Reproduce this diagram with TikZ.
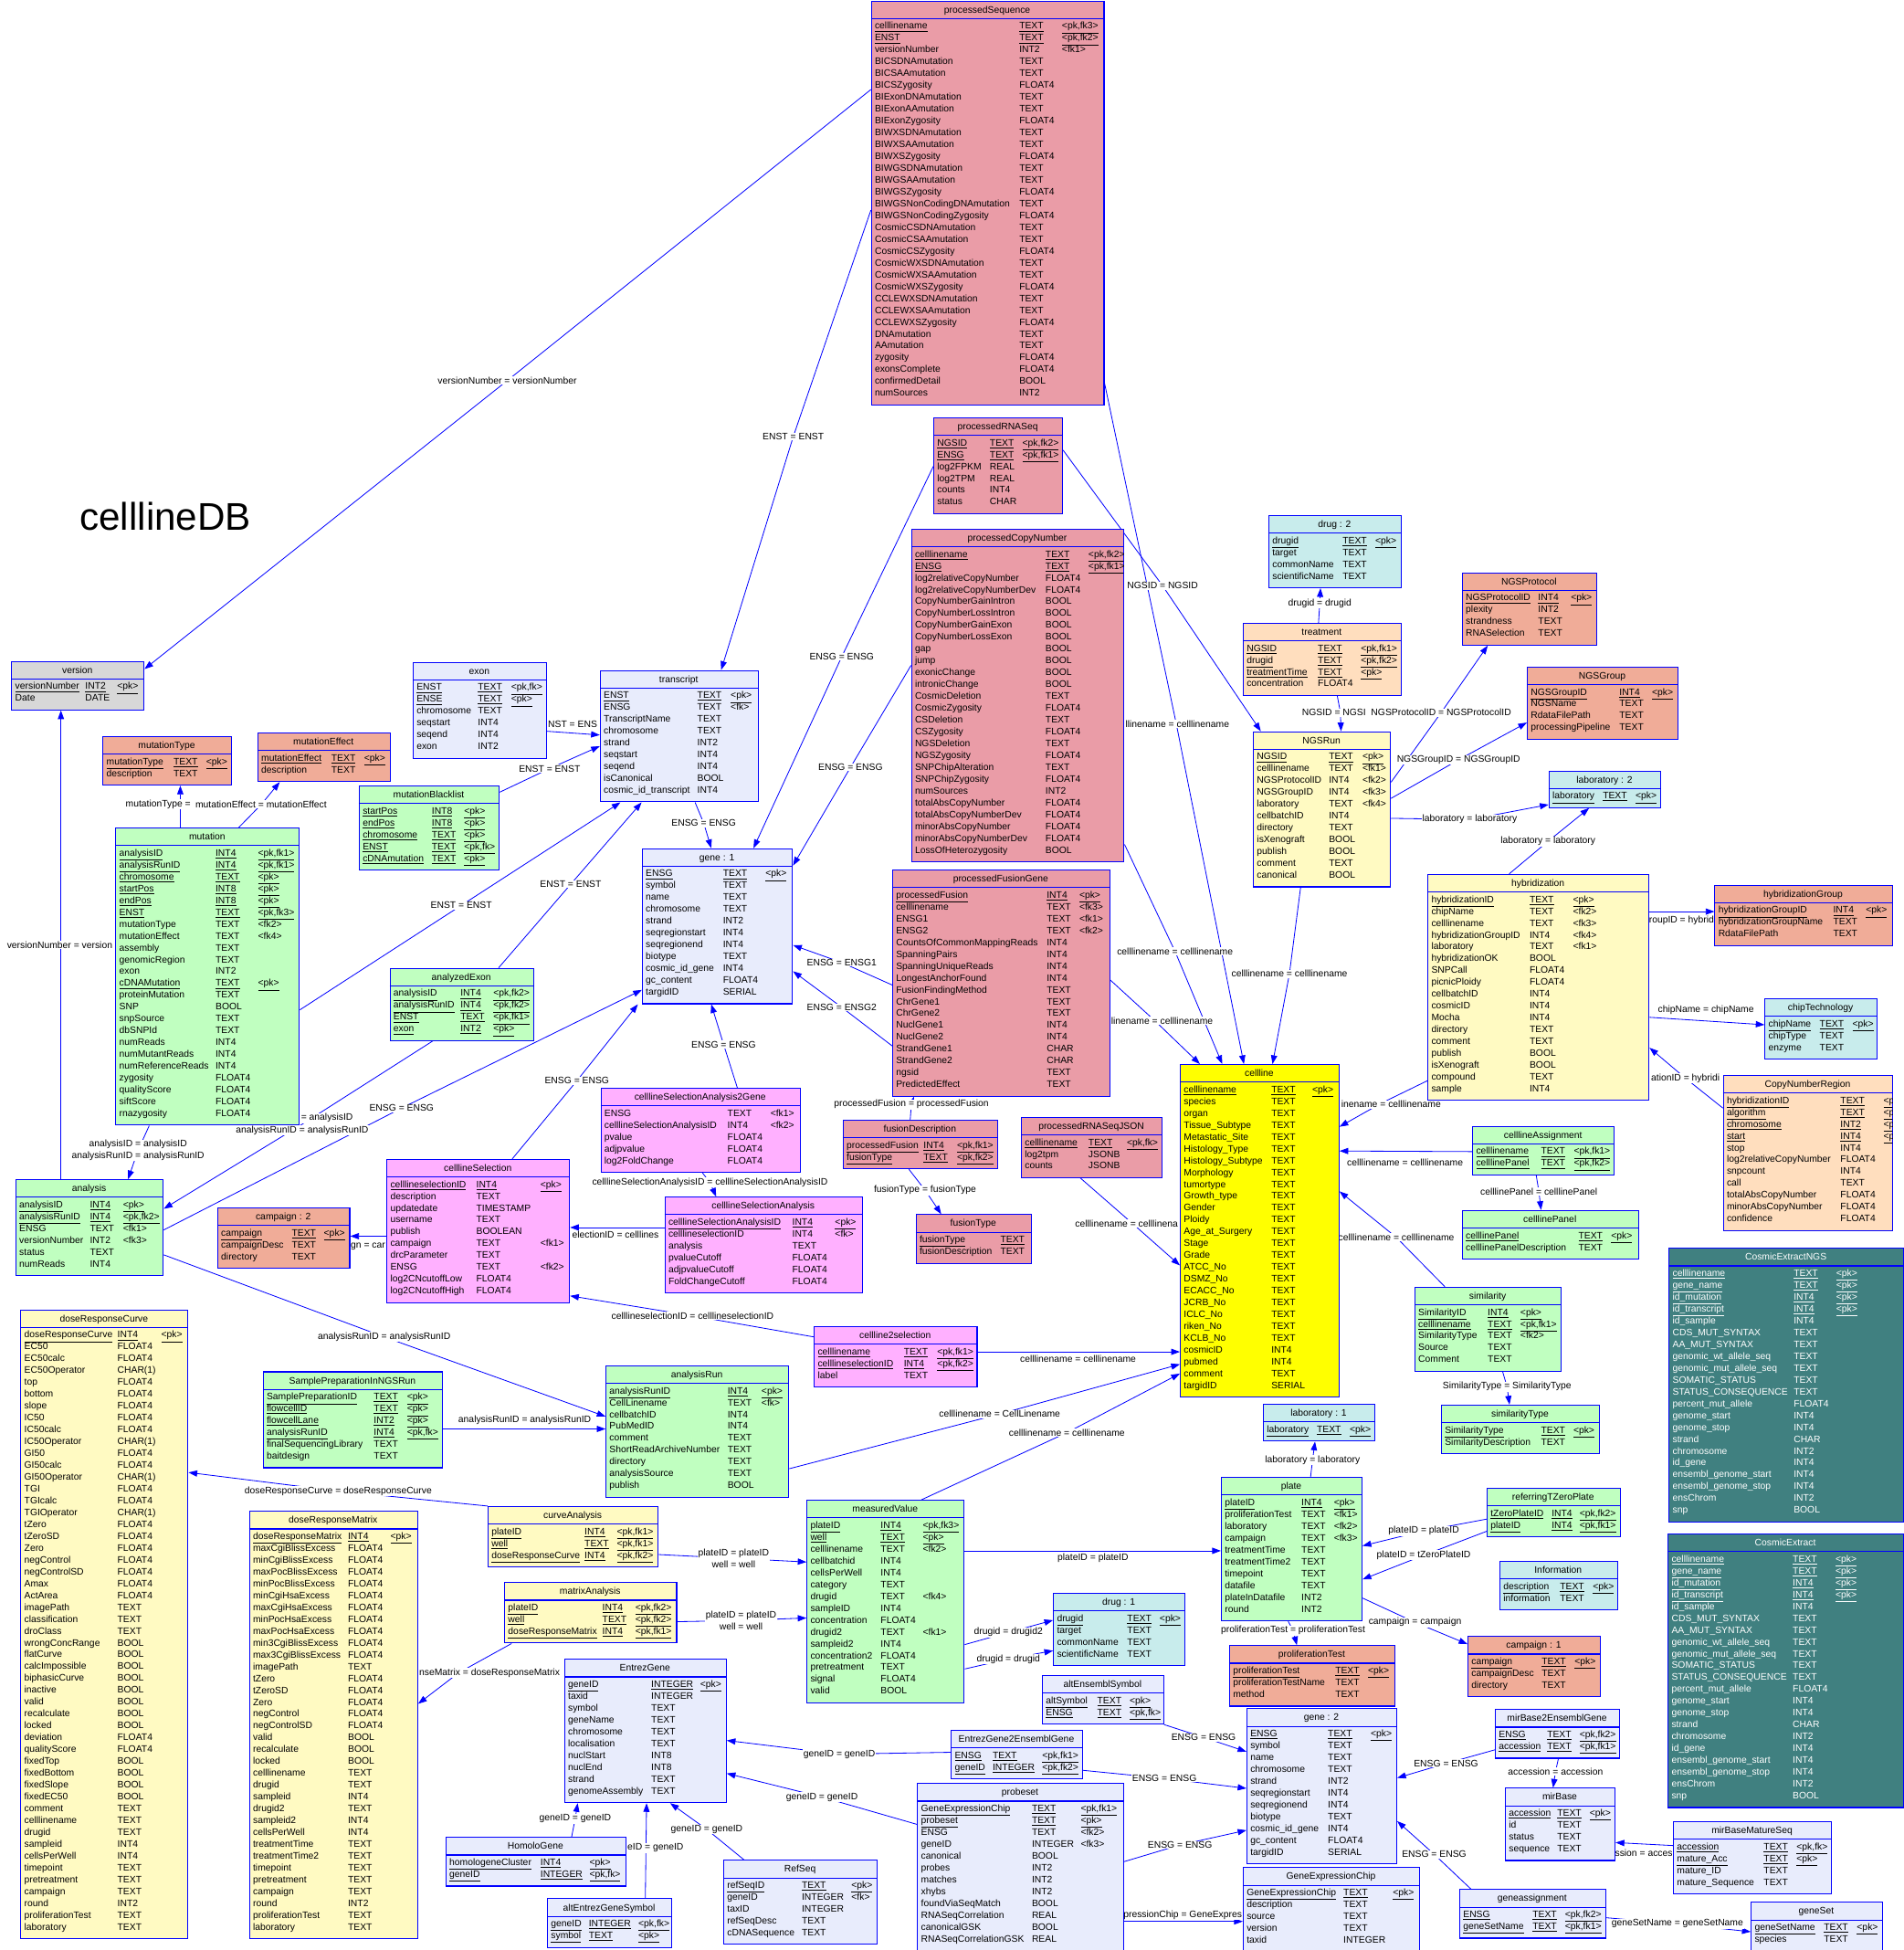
\documentclass[tikz,border=0pt]{standalone}
\usepackage{fontspec}
\setmainfont{Liberation Sans}
\usetikzlibrary{arrows.meta}
\definecolor{cPink}{RGB}{234,156,167}
\definecolor{cSalmon}{RGB}{240,172,152}
\definecolor{cPeach}{RGB}{255,222,190}
\definecolor{cGreen}{RGB}{192,255,192}
\definecolor{cLYellow}{RGB}{255,250,194}
\definecolor{cYellow}{RGB}{255,255,0}
\definecolor{cLav}{RGB}{232,236,252}
\definecolor{cCyan}{RGB}{200,236,236}
\definecolor{cMag}{RGB}{255,176,255}
\definecolor{cTeal}{RGB}{64,128,128}
\definecolor{cGray}{RGB}{216,216,216}
\definecolor{cBlue}{RGB}{0,0,255}
\pgfdeclarelayer{bg}\pgfdeclarelayer{lines}\pgfdeclarelayer{labels}
\pgfsetlayers{bg,lines,labels,main}
\newcommand\tblfont{\fontsize{7.6}{9.3}\selectfont}
\newcommand\U[1]{\underline{#1}}
\tikzset{
 tblbox/.style={draw=cBlue, line width=0.8pt, anchor=north west, inner sep=0pt, rectangle},
 rowtxt/.style={anchor=base west, inner sep=0pt, font=\tblfont},
 ttltxt/.style={anchor=base, inner sep=0pt, font=\tblfont},
 link/.style={draw=cBlue, line width=0.6pt, -{Triangle[length=7pt,width=5pt]}},
 lbl/.style={fill=white, inner sep=0.5pt, font=\tblfont, align=center, text=black},
}
\def\tblsplit#1,#2,#3,#4,#5\relax{\def\tL{#1}\def\tT{#2}\def\tR{#3}\def\tX{#4}\def\kX{#5}}
\newcommand\tbl[6][black]{%
  \tblsplit#4\relax
  \foreach \q [count=\i] in {#6} {\xdef\tN{\i}}%
  \pgfmathsetmacro\tH{20+9.52*\tN}%
  \pgfmathsetmacro\tW{\tR-\tL}%
  \node[tblbox, fill=#3, minimum width=\tW pt, minimum height=\tH pt] (#2) at (\tL,\tT) {};
  \draw[cBlue, line width=0.8pt] (\tL,\tT+14.5) -- (\tR,\tT+14.5);
  \node[ttltxt, text=#1] at ({(\tL+\tR)/2},\tT+10) {#5};
  \begin{scope}
  \clip (\tL,\tT) rectangle (\tR,\tT+\tH);
  \foreach \rk/\ra/\rb/\rc [count=\i] in {#6} {%
    \pgfmathsetmacro\yy{\tT+23+9.52*(\i-1)}%
    \if u\rk
      \node[rowtxt, text=#1] at (\tL+3,\yy) {\U{\ra}};
      \node[rowtxt, text=#1] at (\tL+\tX,\yy) {\U{\rb}};
      \node[rowtxt, text=#1] at (\tL+\kX,\yy) {\U{\rc}};
    \else
      \node[rowtxt, text=#1] at (\tL+3,\yy) {\ra};
      \node[rowtxt, text=#1] at (\tL+\tX,\yy) {\rb};
      \node[rowtxt, text=#1] at (\tL+\kX,\yy) {\rc};
    \fi
  }%
  \end{scope}
}
% straight connector: [label opts]{src}{label pos}{tgt}{text}
\newcommand\conn[5][]{%
  \begin{pgfonlayer}{lines}\draw[link] #2 -- #4;\end{pgfonlayer}
  \begin{pgfonlayer}{labels}\node[lbl,#1] at #3 {#5};\end{pgfonlayer}}
% connector bent at its label: [label opts]{src}{via = label pos}{tgt}{text}
\newcommand\connv[5][]{%
  \begin{pgfonlayer}{lines}\draw[link] #2 -- #3 -- #4;\end{pgfonlayer}
  \begin{pgfonlayer}{labels}\node[lbl,#1] at #3 {#5};\end{pgfonlayer}}
% bent connector with label placed apart: [label opts]{src}{via}{tgt}{label pos}{text}
\newcommand\connx[6][]{%
  \begin{pgfonlayer}{lines}\draw[link] #2 -- #3 -- #4;\end{pgfonlayer}
  \begin{pgfonlayer}{labels}\node[lbl,#1] at #5 {#6};\end{pgfonlayer}}
\begin{document}
\begin{tikzpicture}[x=1pt,y=-1pt]
\useasboundingbox (0,0) rectangle (1531,1568);
\begin{pgfonlayer}{bg}\fill[white] (0,0) rectangle (1531,1568);\end{pgfonlayer}
\node[anchor=base west, inner sep=0pt, font=\fontsize{31}{36}\selectfont] (dbtitle) at (64,426) {celllineDB};

% ---------------- tables ----------------
\tbl{processedSequence}{cPink}{700.4,0.5,887.5,119.2,153.5}{processedSequence}{u/celllinename/TEXT/{<pk,fk3>},u/ENST/TEXT/{<pk,fk2>},n/versionNumber/INT2/{<fk1>},n/BICSDNAmutation/TEXT/{},n/BICSAAmutation/TEXT/{},n/BICSZygosity/FLOAT4/{},n/BIExonDNAmutation/TEXT/{},n/BIExonAAmutation/TEXT/{},n/BIExonZygosity/FLOAT4/{},n/BIWXSDNAmutation/TEXT/{},n/BIWXSAAmutation/TEXT/{},n/BIWXSZygosity/FLOAT4/{},n/BIWGSDNAmutation/TEXT/{},n/BIWGSAAmutation/TEXT/{},n/BIWGSZygosity/FLOAT4/{},n/BIWGSNonCodingDNAmutation/TEXT/{},n/BIWGSNonCodingZygosity/FLOAT4/{},n/CosmicCSDNAmutation/TEXT/{},n/CosmicCSAAmutation/TEXT/{},n/CosmicCSZygosity/FLOAT4/{},n/CosmicWXSDNAmutation/TEXT/{},n/CosmicWXSAAmutation/TEXT/{},n/CosmicWXSZygosity/FLOAT4/{},n/CCLEWXSDNAmutation/TEXT/{},n/CCLEWXSAAmutation/TEXT/{},n/CCLEWXSZygosity/FLOAT4/{},n/DNAmutation/TEXT/{},n/AAmutation/TEXT/{},n/zygosity/FLOAT4/{},n/exonsComplete/FLOAT4/{},n/confirmedDetail/BOOL/{},n/numSources/INT2/{}}

\tbl{processedRNASeq}{cPink}{750.6,335.5,854.2,45.3,71.5}{processedRNASeq}{u/NGSID/TEXT/{<pk,fk2>},u/ENSG/TEXT/{<pk,fk1>},n/log2FPKM/REAL/{},n/log2TPM/REAL/{},n/counts/INT4/{},n/status/CHAR/{}}

\tbl{processedCopyNumber}{cPink}{732.7,425.1,903.6,108,142.5}{processedCopyNumber}{u/celllinename/TEXT/{<pk,fk2>},u/ENSG/TEXT/{<pk,fk1>},n/log2relativeCopyNumber/FLOAT4/{},n/log2relativeCopyNumberDev/FLOAT4/{},n/CopyNumberGainIntron/BOOL/{},n/CopyNumberLossIntron/BOOL/{},n/CopyNumberGainExon/BOOL/{},n/CopyNumberLossExon/BOOL/{},n/gap/BOOL/{},n/jump/BOOL/{},n/exonicChange/BOOL/{},n/intronicChange/BOOL/{},n/CosmicDeletion/TEXT/{},n/CosmicZygosity/FLOAT4/{},n/CSDeletion/TEXT/{},n/CSZygosity/FLOAT4/{},n/NGSDeletion/TEXT/{},n/NGSZygosity/FLOAT4/{},n/SNPChipAlteration/TEXT/{},n/SNPChipZygosity/FLOAT4/{},n/numSources/INT2/{},n/totalAbsCopyNumber/FLOAT4/{},n/totalAbsCopyNumberDev/FLOAT4/{},n/minorAbsCopyNumber/FLOAT4/{},n/minorAbsCopyNumberDev/FLOAT4/{},n/LossOfHeterozygosity/BOOL/{}}

\tbl{processedFusionGene}{cPink}{717.5,699.2,892.1,124.2,150.4}{processedFusionGene}{u/processedFusion/INT4/{<pk>},n/celllinename/TEXT/{<fk3>},n/ENSG1/TEXT/{<fk1>},n/ENSG2/TEXT/{<fk2>},n/CountsOfCommonMappingReads/INT4/{},n/SpanningPairs/INT4/{},n/SpanningUniqueReads/INT4/{},n/LongestAnchorFound/INT4/{},n/FusionFindingMethod/TEXT/{},n/ChrGene1/TEXT/{},n/ChrGene2/TEXT/{},n/NuclGene1/INT4/{},n/NuclGene2/INT4/{},n/StrandGene1/CHAR/{},n/StrandGene2/CHAR/{},n/ngsid/TEXT/{},n/PredictedEffect/TEXT/{}}

\tbl{processedRNASeqJSON}{cPink}{821.1,898,934.3,54.1,85}{processedRNASeqJSON}{u/celllinename/TEXT/{<pk,fk>},n/log2tpm/JSONB/{},n/counts/JSONB/{}}

\tbl{fusionDescription}{cPink}{677.7,900.4,801.9,64.9,91.8}{fusionDescription}{u/processedFusion/INT4/{<pk,fk1>},u/fusionType/TEXT/{<pk,fk2>}}

\tbl{fusionType}{cPink}{736.4,976.3,829,68,100}{fusionType}{u/fusionType/TEXT/{<pk>},n/fusionDescription/TEXT/{}}

\tbl{version}{cGray}{9.1,531.4,115.4,59.3,85}{version}{u/versionNumber/INT2/{<pk>},n/Date/DATE/{}}

\tbl{exon}{cLav}{331.9,532.1,439,52.3,79.1}{exon}{u/ENST/TEXT/{<pk,fk>},u/ENSE/TEXT/{<pk>},n/chromosome/TEXT/{},n/seqstart/INT4/{},n/seqend/INT4/{},n/exon/INT2/{}}

\tbl{transcript}{cLav}{482.4,538.7,609.3,78.3,105.1}{transcript}{u/ENST/TEXT/{<pk>},n/ENSG/TEXT/{<fk>},n/TranscriptName/TEXT/{},n/chromosome/TEXT/{},n/strand/INT2/{},n/seqstart/INT4/{},n/seqend/INT4/{},n/isCanonical/BOOL/{},n/cosmic\_id\_transcript/INT4/{}}

\tbl{mutationType}{cSalmon}{82.5,591.9,185.5,56.9,83.2}{mutationType}{u/mutationType/TEXT/{<pk>},n/description/TEXT/{}}

\tbl{mutationEffect}{cSalmon}{207,589,313.3,59.3,85.7}{mutationEffect}{u/mutationEffect/TEXT/{<pk>},n/description/TEXT/{}}

\tbl{mutationBlacklist}{cGreen}{288.6,631.6,401.1,58.5,84.5}{mutationBlacklist}{u/startPos/INT8/{<pk>},u/endPos/INT8/{<pk>},u/chromosome/TEXT/{<pk>},u/ENST/TEXT/{<pk,fk>},u/cDNAmutation/TEXT/{<pk>}}

\tbl{mutation}{cGreen}{92.8,665.4,240.4,80.4,114.6}{mutation}{u/analysisID/INT4/{<pk,fk1>},u/analysisRunID/INT4/{<pk,fk1>},u/chromosome/TEXT/{<pk>},u/startPos/INT8/{<pk>},u/endPos/INT8/{<pk>},u/ENST/TEXT/{<pk,fk3>},n/mutationType/TEXT/{<fk2>},n/mutationEffect/TEXT/{<fk4>},n/assembly/TEXT/{},n/genomicRegion/TEXT/{},n/exon/INT2/{},u/cDNAMutation/TEXT/{<pk>},n/proteinMutation/TEXT/{},n/SNP/BOOL/{},n/snpSource/TEXT/{},n/dbSNPId/TEXT/{},n/numReads/INT4/{},n/numMutantReads/INT4/{},n/numReferenceReads/INT4/{},n/zygosity/FLOAT4/{},n/qualityScore/FLOAT4/{},n/siftScore/FLOAT4/{},n/rnazygosity/FLOAT4/{}}

\tbl{analyzedExon}{cGreen}{313.3,778.2,428.8,56.9,83.3}{analyzedExon}{u/analysisID/INT4/{<pk,fk2>},u/analysisRunID/INT4/{<pk,fk2>},u/ENST/TEXT/{<pk,fk1>},u/exon/INT2/{<pk>}}

\tbl{gene1}{cLav}{516.2,682,637,65.1,99.3}{gene : 1}{u/ENSG/TEXT/{<pk>},n/symbol/TEXT/{},n/name/TEXT/{},n/chromosome/TEXT/{},n/strand/INT2/{},n/seqregionstart/INT4/{},n/seqregionend/INT4/{},n/biotype/TEXT/{},n/cosmic\_id\_gene/INT4/{},n/gc\_content/FLOAT4/{},n/targidID/SERIAL/{}}

\tbl{cSAtwoG}{cMag}{482.9,874.7,643.2,102,136.6}{celllineSelectionAnalysis2Gene}{n/ENSG/TEXT/{<fk1>},n/celllineSelectionAnalysisID/INT4/{<fk2>},n/pvalue/FLOAT4/{},n/adjpvalue/FLOAT4/{},n/log2FoldChange/FLOAT4/{}}

\tbl{cSel}{cMag}{310.8,931.8,457.7,72.1,123.7}{celllineSelection}{u/celllineselectionID/INT4/{<pk>},n/description/TEXT/{},n/updatedate/TIMESTAMP/{},n/username/TEXT/{},n/publish/BOOLEAN/{},n/campaign/TEXT/{<fk1>},n/drcParameter/TEXT/{},n/ENSG/TEXT/{<fk2>},n/log2CNcutoffLow/FLOAT4/{},n/log2CNcutoffHigh/FLOAT4/{}}

\tbl{campaign2}{cSalmon}{174.7,971,280.9,59.8,85.6}{campaign : 2}{u/campaign/TEXT/{<pk>},n/campaignDesc/TEXT/{},n/directory/TEXT/{}}

\tbl{cSA}{cMag}{534.4,962.2,693.2,102.6,137}{celllineSelectionAnalysis}{u/celllineSelectionAnalysisID/INT4/{<pk>},n/celllineselectionID/INT4/{<fk>},n/analysis/TEXT/{},n/pvalueCutoff/FLOAT4/{},n/adjpvalueCutoff/FLOAT4/{},n/FoldChangeCutoff/FLOAT4/{}}

\tbl{analysis}{cGreen}{12.4,948.2,130.9,59.8,86.5}{analysis}{u/analysisID/INT4/{<pk>},u/analysisRunID/INT4/{<pk,fk2>},n/ENSG/TEXT/{<fk1>},n/versionNumber/INT2/{<fk3>},n/status/TEXT/{},n/numReads/INT4/{}}

\tbl{ctwosel}{cMag}{654.5,1066.5,785.4,72.2,99}{cellline2selection}{u/celllinename/TEXT/{<pk,fk1>},u/celllineselectionID/INT4/{<pk,fk2>},n/label/TEXT/{}}

\tbl{analysisRun}{cGreen}{487,1097.8,633.9,98,125.3}{analysisRun}{u/analysisRunID/INT4/{<pk>},n/CellLinename/TEXT/{<fk>},n/cellbatchID/INT4/{},n/PubMedID/INT4/{},n/comment/TEXT/{},n/ShortReadArchiveNumber/TEXT/{},n/directory/TEXT/{},n/analysisSource/TEXT/{},n/publish/BOOL/{}}

\tbl{samplePrep}{cGreen}{211.3,1102.7,355.6,89.2,116}{SamplePreparationInNGSRun}{u/SamplePreparationID/TEXT/{<pk>},u/flowcellID/TEXT/{<pk>},u/flowcellLane/INT2/{<pk>},u/analysisRunID/INT4/{<pk,fk>},n/finalSequencingLibrary/TEXT/{},n/baitdesign/TEXT/{}}

\tbl{doseResponseCurve}{cLYellow}{16.4,1052.9,150.8,77.9,113.1}{doseResponseCurve}{u/doseResponseCurve/INT4/{<pk>},n/EC50/FLOAT4/{},n/EC50calc/FLOAT4/{},n/EC50Operator/CHAR(1)/{},n/top/FLOAT4/{},n/bottom/FLOAT4/{},n/slope/FLOAT4/{},n/IC50/FLOAT4/{},n/IC50calc/FLOAT4/{},n/IC50Operator/CHAR(1)/{},n/GI50/FLOAT4/{},n/GI50calc/FLOAT4/{},n/GI50Operator/CHAR(1)/{},n/TGI/FLOAT4/{},n/TGIcalc/FLOAT4/{},n/TGIOperator/CHAR(1)/{},n/tZero/FLOAT4/{},n/tZeroSD/FLOAT4/{},n/Zero/FLOAT4/{},n/negControl/FLOAT4/{},n/negControlSD/FLOAT4/{},n/Amax/FLOAT4/{},n/ActArea/FLOAT4/{},n/imagePath/TEXT/{},n/classification/TEXT/{},n/droClass/TEXT/{},n/wrongConcRange/BOOL/{},n/flatCurve/BOOL/{},n/calcImpossible/BOOL/{},n/biphasicCurve/BOOL/{},n/inactive/BOOL/{},n/valid/BOOL/{},n/recalculate/BOOL/{},n/locked/BOOL/{},n/deviation/FLOAT4/{},n/qualityScore/FLOAT4/{},n/fixedTop/BOOL/{},n/fixedBottom/BOOL/{},n/fixedSlope/BOOL/{},n/fixedEC50/BOOL/{},n/comment/TEXT/{},n/celllinename/TEXT/{},n/drugid/TEXT/{},n/sampleid/INT4/{},n/cellsPerWell/INT4/{},n/timepoint/TEXT/{},n/pretreatment/TEXT/{},n/campaign/TEXT/{},n/round/INT2/{},n/proliferationTest/TEXT/{},n/laboratory/TEXT/{}}

\tbl{doseResponseMatrix}{cLYellow}{200.3,1214.9,335.5,79.4,113.6}{doseResponseMatrix}{u/doseResponseMatrix/INT4/{<pk>},n/maxCgiBlissExcess/FLOAT4/{},n/minCgiBlissExcess/FLOAT4/{},n/maxPocBlissExcess/FLOAT4/{},n/minPocBlissExcess/FLOAT4/{},n/minCgiHsaExcess/FLOAT4/{},n/maxCgiHsaExcess/FLOAT4/{},n/minPocHsaExcess/FLOAT4/{},n/maxPocHsaExcess/FLOAT4/{},n/min3CgiBlissExcess/FLOAT4/{},n/max3CgiBlissExcess/FLOAT4/{},n/imagePath/TEXT/{},n/tZero/FLOAT4/{},n/tZeroSD/FLOAT4/{},n/Zero/FLOAT4/{},n/negControl/FLOAT4/{},n/negControlSD/FLOAT4/{},n/valid/BOOL/{},n/recalculate/BOOL/{},n/locked/BOOL/{},n/celllinename/TEXT/{},n/drugid/TEXT/{},n/sampleid/INT4/{},n/drugid2/TEXT/{},n/sampleid2/INT4/{},n/cellsPerWell/INT4/{},n/treatmentTime/TEXT/{},n/treatmentTime2/TEXT/{},n/timepoint/TEXT/{},n/pretreatment/TEXT/{},n/campaign/TEXT/{},n/round/INT2/{},n/proliferationTest/TEXT/{},n/laboratory/TEXT/{}}

\tbl{curveAnalysis}{cLYellow}{392.2,1211,529,77.8,103.8}{curveAnalysis}{u/plateID/INT4/{<pk,fk1>},u/well/TEXT/{<pk,fk1>},u/doseResponseCurve/INT4/{<pk,fk2>}}

\tbl{matrixAnalysis}{cLYellow}{405.5,1272.2,543.8,78.8,105.3}{matrixAnalysis}{u/plateID/INT4/{<pk,fk2>},u/well/TEXT/{<pk,fk2>},u/doseResponseMatrix/INT4/{<pk,fk1>}}

\tbl{measuredValue}{cGreen}{648.6,1206,775.1,59.5,93.4}{measuredValue}{u/plateID/INT4/{<pk,fk3>},u/well/TEXT/{<pk>},n/celllinename/TEXT/{<fk2>},n/cellbatchid/INT4/{},n/cellsPerWell/INT4/{},n/category/TEXT/{},n/drugid/TEXT/{<fk4>},n/sampleID/INT4/{},n/concentration/FLOAT4/{},n/drugid2/TEXT/{<fk1>},n/sampleid2/INT4/{},n/concentration2/FLOAT4/{},n/pretreatment/TEXT/{},n/signal/FLOAT4/{},n/valid/BOOL/{}}

\tbl{EntrezGene}{cLav}{453.7,1333.9,583.7,69.9,109.3}{EntrezGene}{u/geneID/INTEGER/{<pk>},n/taxid/INTEGER/{},n/symbol/TEXT/{},n/geneName/TEXT/{},n/chromosome/TEXT/{},n/localisation/TEXT/{},n/nuclStart/INT8/{},n/nuclEnd/INT8/{},n/strand/TEXT/{},n/genomeAssembly/TEXT/{}}

\tbl{HomoloGene}{cLav}{358.3,1477.1,502.9,76.2,115.6}{HomoloGene}{u/homologeneCluster/INT4/{<pk>},u/geneID/INTEGER/{<pk,fk>}}

\tbl{altEntrezGeneSymbol}{cLav}{440,1526.4,539.8,33.4,73.3}{altEntrezGeneSymbol}{u/geneID/INTEGER/{<pk,fk>},u/symbol/TEXT/{<pk>}}

\tbl{RefSeq}{cLav}{581.7,1495.5,705.2,63,102.9}{RefSeq}{u/refSeqID/TEXT/{<pk>},n/geneID/INTEGER/{<fk>},n/taxID/INTEGER/{},n/refSeqDesc/TEXT/{},n/cDNASequence/TEXT/{}}

\tbl{probeset}{cLav}{737.6,1433.8,903,92.1,131.4}{probeset}{u/GeneExpressionChip/TEXT/{<pk,fk1>},u/probeset/TEXT/{<pk>},n/ENSG/TEXT/{<fk2>},n/geneID/INTEGER/{<fk3>},n/canonical/BOOL/{},n/probes/INT2/{},n/matches/INT2/{},n/xhybs/INT2/{},n/foundViaSeqMatch/BOOL/{},n/RNASeqCorrelation/REAL/{},n/canonicalGSK/BOOL/{},n/RNASeqCorrelationGSK/REAL/{}}

\tbl{drug1}{cCyan}{846.9,1280.7,952.7,59.5,85.6}{drug : 1}{u/drugid/TEXT/{<pk>},n/target/TEXT/{},n/commonName/TEXT/{},n/scientificName/TEXT/{}}

\tbl{altEnsemblSymbol}{cLav}{838,1346.9,935.4,44.3,70.4}{altEnsemblSymbol}{u/altSymbol/TEXT/{<pk>},u/ENSG/TEXT/{<pk,fk>}}

\tbl{etwoe}{cLav}{764.7,1390.9,870.1,33.5,73.3}{EntrezGene2EnsemblGene}{u/ENSG/TEXT/{<pk,fk1>},u/geneID/INTEGER/{<pk,fk2>}}

\tbl{cellline}{cYellow}{948.9,855.6,1076.5,73.4,106.4}{cellline}{u/celllinename/TEXT/{<pk>},n/species/TEXT/{},n/organ/TEXT/{},n/Tissue\_Subtype/TEXT/{},n/Metastatic\_Site/TEXT/{},n/Histology\_Type/TEXT/{},n/Histology\_Subtype/TEXT/{},n/Morphology/TEXT/{},n/tumortype/TEXT/{},n/Growth\_type/TEXT/{},n/Gender/TEXT/{},n/Ploidy/TEXT/{},n/Age\_at\_Surgery/TEXT/{},n/Stage/TEXT/{},n/Grade/TEXT/{},n/ATCC\_No/TEXT/{},n/DSMZ\_No/TEXT/{},n/ECACC\_No/TEXT/{},n/JCRB\_No/TEXT/{},n/ICLC\_No/TEXT/{},n/riken\_No/TEXT/{},n/KCLB\_No/TEXT/{},n/cosmicID/INT4/{},n/pubmed/INT4/{},n/comment/TEXT/{},n/targidID/SERIAL/{}}

\tbl{cAssign}{cGreen}{1184,905.3,1297.9,55.2,81.6}{celllineAssignment}{u/celllinename/TEXT/{<pk,fk1>},u/celllinePanel/TEXT/{<pk,fk2>}}

\tbl{cPanel}{cGreen}{1175.7,972.9,1317.3,93.6,119.9}{celllinePanel}{u/celllinePanel/TEXT/{<pk>},n/celllinePanelDescription/TEXT/{}}

\tbl{similarity}{cGreen}{1137.5,1034.6,1255.4,58.8,85.1}{similarity}{u/SimilarityID/INT4/{<pk>},u/celllinename/TEXT/{<pk,fk1>},n/SimilarityType/TEXT/{<fk2>},n/Source/TEXT/{},n/Comment/TEXT/{}}

\tbl{similarityType}{cGreen}{1158.9,1129.4,1286,80.3,106.3}{similarityType}{u/SimilarityType/TEXT/{<pk>},n/SimilarityDescription/TEXT/{}}

\tbl{lab1}{cCyan}{1015.7,1128.9,1105.4,43.2,69.7}{laboratory : 1}{u/laboratory/TEXT/{<pk>}}

\tbl{plate}{cGreen}{981.9,1187.7,1095,64.6,90.7}{plate}{u/plateID/INT4/{<pk>},n/proliferationTest/TEXT/{<fk1>},n/laboratory/TEXT/{<fk2>},n/campaign/TEXT/{<fk3>},n/treatmentTime/TEXT/{},n/treatmentTime2/TEXT/{},n/timepoint/TEXT/{},n/datafile/TEXT/{},n/plateInDatafile/INT2/{},n/round/INT2/{}}

\tbl{rTZP}{cGreen}{1195.6,1196.2,1302.5,52.2,74.6}{referringTZeroPlate}{u/tZeroPlateID/INT4/{<pk,fk2>},u/plateID/INT4/{<pk,fk1>}}

\tbl{information}{cCyan}{1205.9,1255,1300.3,48.5,75}{Information}{u/description/TEXT/{<pk>},n/information/TEXT/{}}

\tbl{prolif}{cSalmon}{988.5,1322.9,1121.4,85.2,111.6}{proliferationTest}{u/proliferationTest/TEXT/{<pk>},n/proliferationTestName/TEXT/{},n/method/TEXT/{}}

\tbl{campaign1}{cSalmon}{1180.2,1315.5,1286.7,59.5,86}{campaign : 1}{u/campaign/TEXT/{<pk>},n/campaignDesc/TEXT/{},n/directory/TEXT/{}}

\tbl{gene2}{cLav}{1002.4,1373.6,1122.9,65.4,99.9}{gene : 2}{u/ENSG/TEXT/{<pk>},n/symbol/TEXT/{},n/name/TEXT/{},n/chromosome/TEXT/{},n/strand/INT2/{},n/seqregionstart/INT4/{},n/seqregionend/INT4/{},n/biotype/TEXT/{},n/cosmic\_id\_gene/INT4/{},n/gc\_content/FLOAT4/{},n/targidID/SERIAL/{}}

\tbl{gec}{cLav}{999.5,1501.4,1141.3,80.8,120.5}{GeneExpressionChip}{u/GeneExpressionChip/TEXT/{<pk>},n/description/TEXT/{},n/source/TEXT/{},n/version/TEXT/{},n/taxid/INTEGER/{}}

\tbl{mtwoe}{cLav}{1202.3,1374.3,1302.2,41.8,67.9}{mirBase2EnsemblGene}{u/ENSG/TEXT/{<pk,fk2>},u/accession/TEXT/{<pk,fk1>}}

\tbl{mirBase}{cLav}{1210.3,1437.5,1298.5,41.9,68}{mirBase}{u/accession/TEXT/{<pk>},n/id/TEXT/{},n/status/TEXT/{},n/sequence/TEXT/{}}

\tbl{mirBaseMatureSeq}{cLav}{1345.5,1464.4,1472.6,72.8,99.2}{mirBaseMatureSeq}{u/accession/TEXT/{<pk,fk>},u/mature\_Acc/TEXT/{<pk>},n/mature\_ID/TEXT/{},n/mature\_Sequence/TEXT/{}}

\tbl{geneassignment}{cLav}{1173.6,1519,1290.8,58.8,84.9}{geneassignment}{u/ENSG/TEXT/{<pk,fk2>},u/geneSetName/TEXT/{<pk,fk1>}}

\tbl{geneSet}{cLav}{1408,1529.3,1513.4,58.7,85.2}{geneSet}{u/geneSetName/TEXT/{<pk>},n/species/TEXT/{}}

\tbl[white]{cosmicNGS}{cTeal}{1342,1003.4,1530.5,100.4,134.6}{CosmicExtractNGS}{u/celllinename/TEXT/{<pk>},u/gene\_name/TEXT/{<pk>},u/id\_mutation/INT4/{<pk>},u/id\_transcript/INT4/{<pk>},n/id\_sample/INT4/{},n/CDS\_MUT\_SYNTAX/TEXT/{},n/AA\_MUT\_SYNTAX/TEXT/{},n/genomic\_wt\_allele\_seq/TEXT/{},n/genomic\_mut\_allele\_seq/TEXT/{},n/SOMATIC\_STATUS/TEXT/{},n/STATUS\_CONSEQUENCE/TEXT/{},n/percent\_mut\_allele/FLOAT4/{},n/genome\_start/INT4/{},n/genome\_stop/INT4/{},n/strand/CHAR/{},n/chromosome/INT2/{},n/id\_gene/INT4/{},n/ensembl\_genome\_start/INT4/{},n/ensembl\_genome\_stop/INT4/{},n/ensChrom/INT2/{},n/snp/BOOL/{}}

\tbl[white]{cosmic}{cTeal}{1341.2,1233.1,1530.5,100.4,134.9}{CosmicExtract}{u/celllinename/TEXT/{<pk>},u/gene\_name/TEXT/{<pk>},u/id\_mutation/INT4/{<pk>},u/id\_transcript/INT4/{<pk>},n/id\_sample/INT4/{},n/CDS\_MUT\_SYNTAX/TEXT/{},n/AA\_MUT\_SYNTAX/TEXT/{},n/genomic\_wt\_allele\_seq/TEXT/{},n/genomic\_mut\_allele\_seq/TEXT/{},n/SOMATIC\_STATUS/TEXT/{},n/STATUS\_CONSEQUENCE/TEXT/{},n/percent\_mut\_allele/FLOAT4/{},n/genome\_start/INT4/{},n/genome\_stop/INT4/{},n/strand/CHAR/{},n/chromosome/INT2/{},n/id\_gene/INT4/{},n/ensembl\_genome\_start/INT4/{},n/ensembl\_genome\_stop/INT4/{},n/ensChrom/INT2/{},n/snp/BOOL/{}}

\tbl{hybridization}{cLYellow}{1148,702.7,1325.8,82,116.9}{hybridization}{u/hybridizationID/TEXT/{<pk>},n/chipName/TEXT/{<fk2>},n/celllinename/TEXT/{<fk3>},n/hybridizationGroupID/INT4/{<fk4>},n/laboratory/TEXT/{<fk1>},n/hybridizationOK/BOOL/{},n/SNPCall/FLOAT4/{},n/picnicPloidy/FLOAT4/{},n/cellbatchID/INT4/{},n/cosmicID/INT4/{},n/Mocha/INT4/{},n/directory/TEXT/{},n/comment/TEXT/{},n/publish/BOOL/{},n/isXenograft/BOOL/{},n/compound/TEXT/{},n/sample/INT4/{}}

\tbl{hybGroup}{cSalmon}{1378.8,711.4,1521.5,95.4,121.7}{hybridizationGroup}{u/hybridizationGroupID/INT4/{<pk>},n/hybridizationGroupName/TEXT/{},n/RdataFilePath/TEXT/{}}

\tbl{chipTech}{cCyan}{1419.1,802.8,1509.1,44.2,70.5}{chipTechnology}{u/chipName/TEXT/{<pk>},n/chipType/TEXT/{},n/enzyme/TEXT/{}}

\tbl{cnr}{cPeach}{1385.6,864.3,1522,94.4,129}{CopyNumberRegion}{u/hybridizationID/TEXT/{<pk>},u/algorithm/TEXT/{<pk>},u/chromosome/INT2/{<pk>},u/start/INT4/{<pk>},n/stop/INT4/{},n/log2relativeCopyNumber/FLOAT4/{},n/snpcount/INT4/{},n/call/TEXT/{},n/totalAbsCopyNumber/FLOAT4/{},n/minorAbsCopyNumber/FLOAT4/{},n/confidence/FLOAT4/{}}

\tbl{NGSRun}{cLYellow}{1007.7,588,1117.9,60.9,87.9}{NGSRun}{u/NGSID/TEXT/{<pk>},n/celllinename/TEXT/{<fk1>},n/NGSProtocolID/INT4/{<fk2>},n/NGSGroupID/INT4/{<fk3>},n/laboratory/TEXT/{<fk4>},n/cellbatchID/INT4/{},n/directory/TEXT/{},n/isXenograft/BOOL/{},n/publish/BOOL/{},n/comment/TEXT/{},n/canonical/BOOL/{}}

\tbl{treatment}{cPeach}{999.5,500.7,1126.4,60.2,94.8}{treatment}{u/NGSID/TEXT/{<pk,fk1>},u/drugid/TEXT/{<pk,fk2>},u/treatmentTime/TEXT/{<pk>},n/concentration/FLOAT4/{}}

\tbl{drug2}{cCyan}{1020.1,414.1,1126.4,59.5,85.8}{drug : 2}{u/drugid/TEXT/{<pk>},n/target/TEXT/{},n/commonName/TEXT/{},n/scientificName/TEXT/{}}

\tbl{NGSProtocol}{cSalmon}{1175.7,460.2,1283.7,61.2,87.5}{NGSProtocol}{u/NGSProtocolID/INT4/{<pk>},n/plexity/INT2/{},n/strandness/TEXT/{},n/RNASelection/TEXT/{}}

\tbl{NGSGroup}{cSalmon}{1228,535.9,1349,74.2,100.5}{NGSGroup}{u/NGSGroupID/INT4/{<pk>},n/NGSName/TEXT/{},n/RdataFilePath/TEXT/{},n/processingPipeline/TEXT/{}}

\tbl{lab2}{cCyan}{1245.4,619.5,1335.4,43.5,69.8}{laboratory : 2}{u/laboratory/TEXT/{<pk>}}

% ---------------- connectors ----------------
\conn[anchor=west]{(analysis.north -| 49,0)}{(5,760)}{(version.south -| 49,0)}{versionNumber = version}
\connv{(processedSequence.west |- 0,72)}{(408,306)}{(version.east |- 0,538)}{versionNumber = versionNumber}
\connv{(processedSequence.west |- 0,169)}{(638,351)}{(transcript.north -| 580,0)}{ENST = ENST}
\conn{(exon.east |- 0,588)}{(460.5,582)}{(transcript.west |- 0,591)}{NST = ENS}
\connv{(mutationBlacklist.east |- 0,637)}{(442,618)}{(transcript.west |- 0,600)}{ENST = ENST}
\conn[anchor=east]{(mutation.north -| 145,0)}{(154,647)}{(mutationType.south -| 145,0)}{mutationType =}
\connv{(mutation.north -| 192,0)}{(210,647)}{(mutationEffect.south -| 225,0)}{mutationEffect = mutationEffect}
\connv{(mutation.east |- 0,812)}{(371,728)}{(transcript.south -| 499,0)}{ENST = ENST}
\connv{(analyzedExon.north -| 401,0)}{(459,711)}{(transcript.south -| 516,0)}{ENST = ENST}
\connv{(transcript.south -| 559,0)}{(566,662)}{(gene1.north -| 572,0)}{ENSG = ENSG}
\connv{(processedRNASeq.west |- 0,375)}{(677,528)}{(gene1.north -| 606,0)}{ENSG = ENSG}
\connv{(processedCopyNumber.west |- 0,535)}{(684,617)}{(gene1.east |- 0,696)}{ENSG = ENSG}
\connv{(processedFusionGene.west |- 0,792)}{(677,774)}{(gene1.east |- 0,760)}{ENSG = ENSG1}
\connv{(processedFusionGene.west |- 0,841)}{(677,810)}{(gene1.east |- 0,781)}{ENSG = ENSG2}
\connv{(cSAtwoG.north -| 593,0)}{(582,840)}{(gene1.south -| 572,0)}{ENSG = ENSG}
\connv{(cSel.north -| 412,0)}{(464,869)}{(gene1.south -| 513,0)}{ENSG = ENSG}
\connv{(analysis.east |- 0,989)}{(323,891)}{(gene1.west |- 0,796)}{ENSG = ENSG}
\connv{(mutation.south -| 120,0)}{(111,925)}{(analysis.north -| 103,0)}{analysisID = analysisID\\analysisRunID = analysisRunID}
\connx[anchor=west]{(analyzedExon.south -| 348,0)}{(243,904)}{(analysis.east |- 0,972)}{(241.5,899)}{= analysisID}
\begin{pgfonlayer}{labels}\node[lbl] (lblAERun) at (243,909) {analysisRunID = analysisRunID};\end{pgfonlayer}
\connv{(analysis.east |- 0,1009)}{(309,1075)}{(analysisRun.west |- 0,1139)}{analysisRunID = analysisRunID}
\conn{(samplePrep.east |- 0,1149)}{(422,1142)}{(analysisRun.west |- 0,1149)}{analysisRunID = analysisRunID}
\connv{(cSAtwoG.south -| 565,0)}{(571,951)}{(cSA.north -| 576,0)}{celllineSelectionAnalysisID = celllineSelectionAnalysisID}
\conn{(cSA.west |- 0,987)}{(495,993)}{(cSel.east |- 0,987)}{electionID = celllines}
\conn{(cSel.west |- 0,994)}{(296,1002)}{(campaign2.east |- 0,994)}{gn = car}
\connv{(ctwosel.west |- 0,1075)}{(557,1058)}{(cSel.east |- 0,1042)}{celllineselectionID = celllineselectionID}
\conn{(ctwosel.east |- 0,1087)}{(867,1093)}{(cellline.west |- 0,1087)}{celllinename = celllinename}
\connv{(analysisRun.east |- 0,1181)}{(804,1137)}{(cellline.west |- 0,1097)}{celllinename = CellLinename}
\connv{(measuredValue.north -| 741,0)}{(858,1152)}{(cellline.west |- 0,1104.5)}{celllinename = celllinename}
\connx[anchor=east]{(processedRNASeqJSON.south -| 869,0)}{(911,984)}{(cellline.west |- 0,1017.5)}{(948,984)}{celllinename = celllinena}
\connv{(fusionDescription.north -| 732,0)}{(733,888)}{(processedFusionGene.south -| 735,0)}{processedFusion = processedFusion}
\connv{(fusionDescription.south -| 731,0)}{(744,957)}{(fusionType.north -| 757,0)}{fusionType = fusionType}
\connx[anchor=west]{(processedSequence.east |- 0,308)}{(946,582)}{(cellline.north -| 1000.4,0)}{(904.5,582)}{llinename = celllinename}
\connv{(processedRNASeq.east |- 0,362)}{(935,471)}{(NGSRun.north -| 1014,0)}{NGSID = NGSID}
\connv{(processedCopyNumber.east |- 0,679)}{(945,765)}{(cellline.north -| 983,0)}{celllinename = celllinename}
\connx[anchor=west]{(processedFusionGene.east |- 0,788)}{(929,821)}{(cellline.north -| 965,0)}{(893,821)}{linename = celllinename}
\connv{(NGSRun.south -| 1046,0)}{(1037,783)}{(cellline.north -| 1023.4,0)}{celllinename = celllinename}
\connv{(treatment.north -| 1060.4,0)}{(1061.4,485)}{(drug2.south -| 1062,0)}{drugid = drugid}
\connx[anchor=west]{(treatment.south -| 1075.5,0)}{(1078,573)}{(NGSRun.north -| 1078.5,0)}{(1046.5,573)}{NGSID = NGSI}
\connv{(NGSRun.east |- 0,629)}{(1159,573)}{(NGSProtocol.south -| 1196.5,0)}{NGSProtocolID = NGSProtocolID}
\connv{(NGSRun.east |- 0,642)}{(1173,611)}{(NGSGroup.west |- 0,581)}{NGSGroupID = NGSGroupID}
\connv{(NGSRun.east |- 0,658)}{(1182,659)}{(lab2.west |- 0,647)}{laboratory = laboratory}
\connv{(hybridization.north -| 1213.7,0)}{(1245,676.5)}{(lab2.south -| 1278,0)}{laboratory = laboratory}
\conn{(hybridization.east |- 0,733)}{(1352.3,740)}{(hybGroup.west |- 0,733)}{roupID = hybrid}
\conn{(hybridization.east |- 0,818)}{(1372,812)}{(chipTech.west |- 0,824)}{chipName = chipName}
\connv{(cnr.west |- 0,891)}{(1355.5,867)}{(hybridization.east |- 0,842.5)}{ationID = hybridi}
\connx[anchor=west]{(hybridization.west |- 0,869)}{(1111,887)}{(cellline.east |- 0,906)}{(1078,888)}{inename = celllinename}
\conn{(cAssign.west |- 0,926)}{(1130,935)}{(cellline.east |- 0,925.5)}{celllinename = celllinename}
\connv{(cAssign.south -| 1235.5,0)}{(1237.6,958)}{(cPanel.north -| 1239.4,0)}{celllinePanel = celllinePanel}
\connv{(similarity.north -| 1162,0)}{(1123,995)}{(cellline.east |- 0,958)}{celllinename = celllinename}
\connv{(similarity.south -| 1208.5,0)}{(1212,1115)}{(similarityType.north -| 1214,0)}{SimilarityType = SimilarityType}
\connv{(plate.north -| 1054,0)}{(1055.6,1174)}{(lab1.south -| 1057.6,0)}{laboratory = laboratory}
\conn{(measuredValue.east |- 0,1247)}{(879,1253)}{(plate.west |- 0,1247)}{plateID = plateID}
\connv{(rTZP.west |- 0,1221.5)}{(1145,1231)}{(plate.east |- 0,1243)}{plateID = plateID}
\connv{(rTZP.west |- 0,1231.3)}{(1145,1250.6)}{(plate.east |- 0,1270)}{plateID = tZeroPlateID}
\connv{(plate.south -| 1036,0)}{(1040,1311)}{(prolif.north -| 1043,0)}{proliferationTest = proliferationTest}
\connv{(plate.east |- 0,1285)}{(1138,1304.5)}{(campaign1.west |- 0,1322)}{campaign = campaign}
\connv{(altEnsemblSymbol.south east)}{(968,1397)}{(gene2.west |- 0,1408.5)}{ENSG = ENSG}
\connv{(etwoe.east |- 0,1423.5)}{(936.5,1430)}{(gene2.west |- 0,1438)}{ENSG = ENSG}
\connv{(probeset.east |- 0,1497)}{(949,1483.5)}{(gene2.west |- 0,1471.7)}{ENSG = ENSG}
\connv{(mtwoe.west |- 0,1407)}{(1163,1418)}{(gene2.east |- 0,1429.6)}{ENSG = ENSG}
\connv{(geneassignment.north -| 1183,0)}{(1153.4,1491)}{(gene2.east |- 0,1464.4)}{ENSG = ENSG}
\connv{(mtwoe.south -| 1253.3,0)}{(1251,1424.5)}{(mirBase.north -| 1249,0)}{accession = accession}
\conn{(mirBaseMatureSeq.west |- 0,1484)}{(1322,1490)}{(mirBase.east |- 0,1481.6)}{ssion = acces}
\connv{(geneassignment.east |- 0,1542)}{(1349,1547)}{(geneSet.west |- 0,1553.3)}{geneSetName = geneSetName}
\conn{(probeset.east |- 0,1545)}{(951.2,1540)}{(gec.west |- 0,1545)}{pressionChip = GeneExpres}
\connv{(etwoe.west |- 0,1409)}{(675,1410.5)}{(EntrezGene.east |- 0,1399.5)}{geneID = geneID}
\connv{(probeset.west |- 0,1467)}{(661,1445)}{(EntrezGene.east |- 0,1426)}{geneID = geneID}
\connv{(HomoloGene.north -| 459.7,0)}{(462.6,1462.4)}{(EntrezGene.south -| 464.6,0)}{geneID = geneID}
\conn[anchor=west]{(altEntrezGeneSymbol.north -| 519,0)}{(504,1486)}{(EntrezGene.south -| 520,0)}{eID = geneID}
\connv{(RefSeq.north -| 598.4,0)}{(568.4,1471)}{(EntrezGene.south -| 539,0)}{geneID = geneID}
\connv{(curveAnalysis.east |- 0,1250)}{(590,1253)}{(measuredValue.west |- 0,1256)}{plateID = plateID\\well = well}
\connv{(matrixAnalysis.east |- 0,1304)}{(596,1303)}{(measuredValue.west |- 0,1301)}{plateID = plateID\\well = well}
\connv{(measuredValue.east |- 0,1322.4)}{(811,1312.6)}{(drug1.west |- 0,1302.8)}{drugid = drugid2}
\connv{(measuredValue.east |- 0,1342)}{(811,1334)}{(drug1.west |- 0,1327.3)}{drugid = drugid}
\connv{(curveAnalysis.north west)}{(272,1199)}{(doseResponseCurve.east |- 0,1184)}{doseResponseCurve = doseResponseCurve}
\connx[anchor=west]{(matrixAnalysis.south -| 411.4,0)}{(369,1345)}{(doseResponseMatrix.east |- 0,1370)}{(336.5,1345)}{nseMatrix = doseResponseMatrix}
\end{tikzpicture}
\end{document}
